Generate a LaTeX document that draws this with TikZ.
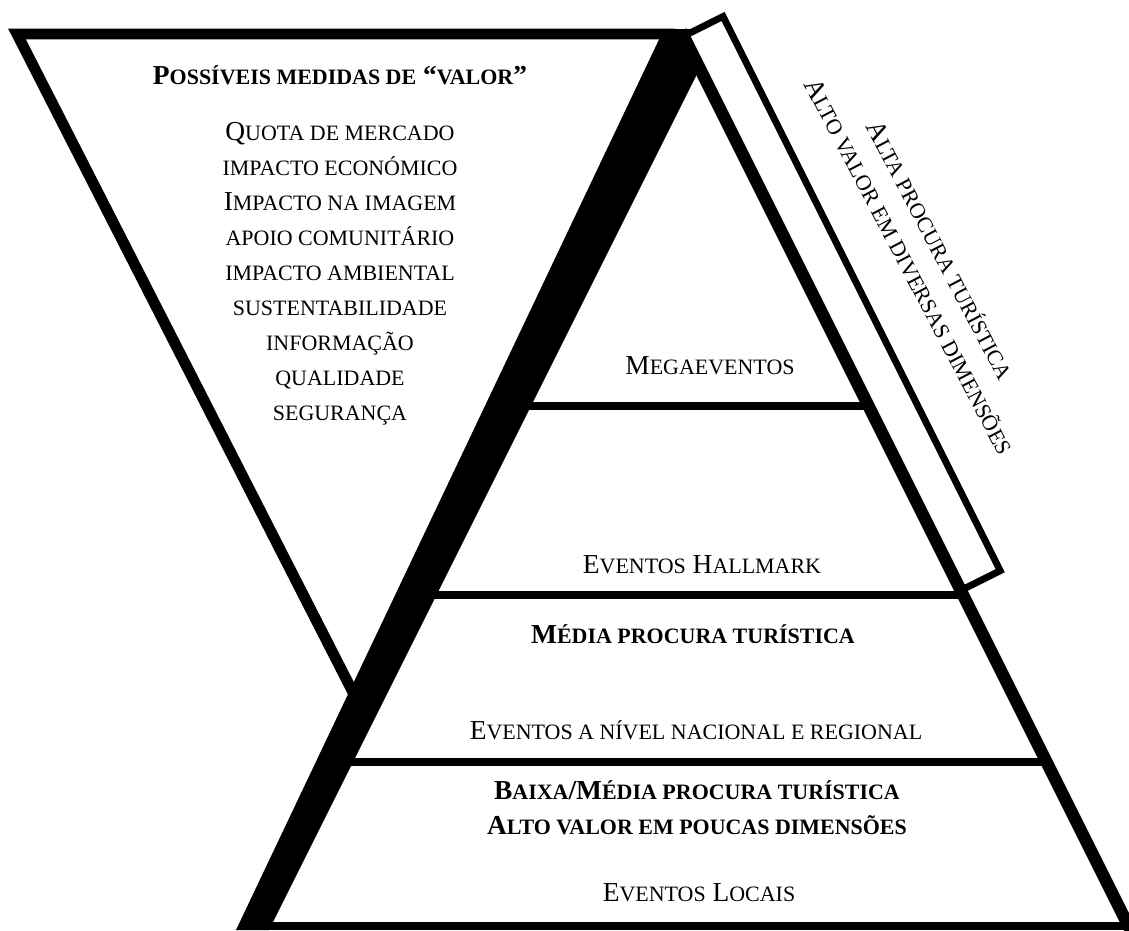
\documentclass[tikz,border=0pt]{standalone}
\usepackage{fontspec}
\setmainfont{Liberation Serif}
\usetikzlibrary{positioning}

% small capitals, written as smaller upper case letters
\newcommand{\sml}[1]{{\fontsize{12.5}{15}\selectfont #1}}

\begin{document}
\begin{tikzpicture}[
    x=0.02cm, y=-0.02cm,
    funnel/.style={line width=6.2pt, line join=miter},
    edge/.style={line width=7pt},
    tier/.style={line width=4.5pt},
    frame/.style={line width=3.9pt, line join=miter},
    txt/.style={font=\fontsize{15.6}{19.9}\selectfont, align=center, inner sep=0pt},
    bold/.style={txt, font=\fontsize{15.6}{19.9}\selectfont\bfseries}
]
    \useasboundingbox (0,0) rectangle (1129,930);

    % Funnel
    \draw[funnel] (362,710) -- (17,34) -- (675,34);

    % Tiers
    \draw[tier] (526,406) -- (868,406);
    \draw[tier] (431,595) -- (963,595);
    \draw[tier] (348,762) -- (1046,762);

    % Frame along the right side
    \draw[frame] (685.5,35.2) -- (723.1,16.4) -- (1000.2,570.7) -- (962.6,589.5) -- cycle;

    % Pyramid
    \fill (664,29) -- (690,29) -- (696,76) -- (269,930) -- (236,930) -- cycle;
    \draw[edge] (681,31) -- (1131,931);
    \draw[tier] (240,926) -- (1135,926);

    % Nodes
    \node[bold] (title) at (340,75) {P\sml{OSSÍVEIS MEDIDAS DE} “\sml{VALOR}”};
    \node[txt] (measures) at (340,274) {Q\sml{UOTA DE MERCADO}\\ \sml{IMPACTO ECONÓMICO}\\ I\sml{MPACTO NA IMAGEM}\\ \sml{APOIO COMUNITÁRIO}\\ \sml{IMPACTO AMBIENTAL}\\ \sml{SUSTENTABILIDADE}\\ \sml{INFORMAÇÃO}\\ \sml{QUALIDADE}\\ \sml{SEGURANÇA}};
    \node[txt] (mega) at (710,366) {M\sml{EGAEVENTOS}};
    \node[txt] (hallmark) at (702,565) {E\sml{VENTOS} H\sml{ALLMARK}};
    \node[bold] (medium) at (693,634) {M\sml{ÉDIA PROCURA TURÍSTICA}};
    \node[txt] (national) at (696,730) {E\sml{VENTOS A NÍVEL NACIONAL E REGIONAL}};
    \node[bold] (lowmed) at (697,808) {B\sml{AIXA}/M\sml{ÉDIA PROCURA TURÍSTICA}\\ A\sml{LTO VALOR EM POUCAS DIMENSÕES}};
    \node[txt] (local) at (699,893) {E\sml{VENTOS} L\sml{OCAIS}};
    \node[txt, rotate=-62.3] (high) at (925,258) {A\sml{LTA PROCURA TURÍSTICA}\\ A\sml{LTO VALOR EM DIVERSAS DIMENSÕES}};
\end{tikzpicture}
\end{document}
